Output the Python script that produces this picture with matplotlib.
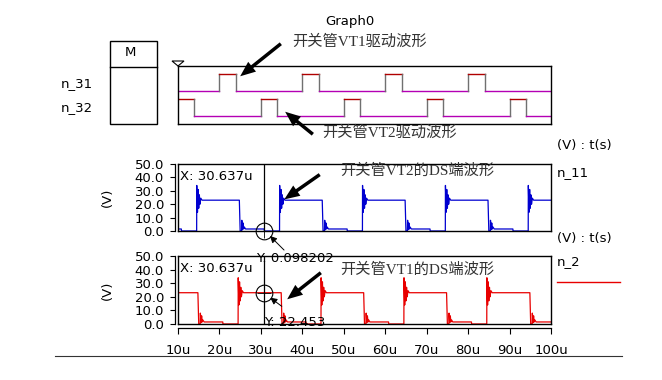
import matplotlib
matplotlib.use("Agg")
import matplotlib.pyplot as plt
from matplotlib.patches import FancyArrowPatch, Rectangle, Polygon
from matplotlib.lines import Line2D

plt.rcParams['font.family'] = ['DejaVu Sans']

W, H = 662, 380

# --- data (time in us, voltage in V) ---
t_ticks = [10, 20, 30, 40, 50, 60, 70, 80, 90, 100]
t_tick_labels = ['10u', '20u', '30u', '40u', '50u', '60u', '70u', '80u', '90u', '100u']
v_ticks = [0, 10, 20, 30, 40, 50]

# gate drive pulses (start, end)
n31_high = [(20.0, 24.0), (40.0, 44.0), (60.0, 64.0), (80.0, 84.0)]
n32_high = [(10.0, 13.9), (30.0, 34.0), (50.0, 54.0), (70.0, 74.0), (90.0, 94.0)]

# drain-source edges
n11_rise = [14.5, 34.5, 54.5, 74.5, 94.5]
n11_fall = [4.8, 24.8, 44.8, 64.8, 84.8]
n2_rise = [4.5, 24.5, 44.5, 64.5, 84.5]
n2_fall = [14.8, 34.9, 54.8, 74.8, 94.9]

# ringing seen at each edge
rise_dt = [0, 0.03, 0.2, 0.35, 0.5, 0.65, 0.8, 1.0, 1.3, 1.6]
rise_v = [0, 34, 14, 31, 17, 27, 20, 24.5, 23, 23]
fall_dt = [0, 0.2, 0.55, 0.6, 0.75, 0.9, 1.05, 1.2, 1.5]
fall_v = [23, 0, 0, 8, 1, 6, 1.5, 3, 1.5]
low_hold = 6.0
low_level = 1.5

cursor_x = 30.637
cursor_y1 = 0.098202
cursor_y2 = 22.453


def P(x, y):
    return (x / W, 1 - y / H)


def box(x0, y0, x1, y1):
    return [x0 / W, 1 - y1 / H, (x1 - x0) / W, (y1 - y0) / H]


def analog_wave(rises, falls, start_v):
    edges = sorted([(t, 'r') for t in rises] + [(t, 'f') for t in falls])
    ts, vs = [0.0], [start_v]
    for t, kind in edges:
        if kind == 'r':
            ts += [t + d for d in rise_dt]
            vs += rise_v
        else:
            ts += [t + d for d in fall_dt]
            vs += fall_v
            ts += [t + low_hold, t + low_hold + 0.05]
            vs += [low_level, 0]
    ts.append(110.0)
    vs.append(vs[-1])
    return ts, vs


LOW_C = '#b400b4'
HIGH_C = '#b00000'
EDGE_C = '#707070'


def draw_lane(ax, highs, base, amp):
    t = 10.0
    for a, b in highs:
        if a > t:
            ax.plot([t, a], [base, base], color=LOW_C, lw=1)
            ax.plot([a, a], [base, base + amp], color=EDGE_C, lw=1)
        ax.plot([max(a, 10.0), b], [base + amp, base + amp], color=HIGH_C, lw=1)
        ax.plot([b, b], [base, base + amp], color=EDGE_C, lw=1)
        t = b
    ax.plot([t, 100], [base, base], color=LOW_C, lw=1)


fig = plt.figure(figsize=(W / 100, H / 100), dpi=100)
fig.patch.set_facecolor('white')

FS = 9.5

# --- digital panel ---
ax0 = fig.add_axes(box(178, 66, 551, 124))
ax0.set_xlim(10, 100)
ax0.set_ylim(0, 58)
draw_lane(ax0, n31_high, 33, 17)
draw_lane(ax0, n32_high, 8, 17)
ax0.set_xticks([])
ax0.set_yticks([])
for s in ax0.spines.values():
    s.set_linewidth(1)

# M box and marker
fig.add_artist(Rectangle(P(110, 124), 47 / W, 83 / H, transform=fig.transFigure,
                         fill=False, lw=1, ec='black'))
fig.add_artist(Line2D([110 / W, 157 / W], [1 - 67 / H] * 2, transform=fig.transFigure,
                      color='black', lw=1))
fig.text(*P(130, 53), 'M', ha='center', va='center', fontsize=FS)
fig.add_artist(Polygon([P(172, 61), P(184, 61), P(178, 66)], closed=True, fill=False,
                       lw=0.8, ec='black', transform=fig.transFigure))
fig.text(*P(61, 84), 'n_31', ha='left', va='center', fontsize=FS)
fig.text(*P(61, 108), 'n_32', ha='left', va='center', fontsize=FS)

# --- analog panels ---
ts11, vs11 = analog_wave(n11_rise, n11_fall, 23)
ts2, vs2 = analog_wave(n2_rise, n2_fall, 0)

ax1 = fig.add_axes(box(178, 164, 551, 231))
ax2 = fig.add_axes(box(178, 256, 551, 324))
ax1.plot(ts11, vs11, color='#0000d0', lw=0.9)
ax2.plot(ts2, vs2, color='#e80000', lw=0.9)

for ax in (ax1, ax2):
    ax.set_xlim(10, 100)
    ax.set_ylim(0, 50)
    ax.set_xticks([])
    ax.set_yticks([])
    for s in ax.spines.values():
        s.set_linewidth(1)
    ax.axvline(cursor_x, color='black', lw=0.9)
    sy = ax.secondary_yaxis(-3.5 / 373)
    sy.set_yticks(v_ticks)
    sy.set_yticklabels(['%.1f' % v for v in v_ticks])
    sy.tick_params(direction='out', length=3.5, width=0.8, pad=4, labelsize=FS)
    sy.spines['left'].set_linewidth(0.9)

sx = ax2.secondary_xaxis(-4.3 / 68)
sx.set_xticks(t_ticks)
sx.set_xticklabels(t_tick_labels)
sx.tick_params(direction='out', length=4, width=0.8, pad=7, labelsize=FS)
sx.spines['bottom'].set_linewidth(0.9)

# cursor markers
for ax, cy in ((ax1, cursor_y1), (ax2, cursor_y2)):
    ax.plot([cursor_x], [cy], marker='o', ms=12, mfc='none', mec='black', mew=0.8, clip_on=False)
    ax.plot([cursor_x], [cy], marker='+', ms=10, mec='black', mew=0.6, clip_on=False)

fig.add_artist(FancyArrowPatch(P(286, 252), P(268, 234), transform=fig.transFigure,
                               arrowstyle='-|>,head_length=4,head_width=2', lw=0.7, color='black'))
fig.add_artist(FancyArrowPatch(P(284, 308), P(268, 296), transform=fig.transFigure,
                               arrowstyle='-|>,head_length=4,head_width=2', lw=0.7, color='black'))

fig.text(*P(180, 177), 'X: 30.637u', ha='left', va='center', fontsize=FS)
fig.text(*P(180, 268), 'X: 30.637u', ha='left', va='center', fontsize=FS)
fig.text(*P(256, 259), 'Y: 0.098202', ha='left', va='center', fontsize=FS)
fig.text(*P(264, 322), 'Y: 22.453', ha='left', va='center', fontsize=FS)

fig.text(*P(107, 197), '(V)', rotation=90, ha='center', va='center', fontsize=FS)
fig.text(*P(107, 290), '(V)', rotation=90, ha='center', va='center', fontsize=FS)
fig.text(*P(557, 146), '(V) : t(s)', ha='left', va='center', fontsize=FS)
fig.text(*P(557, 239), '(V) : t(s)', ha='left', va='center', fontsize=FS)
fig.text(*P(557, 173), 'n_11', ha='left', va='center', fontsize=FS)
fig.text(*P(557, 262), 'n_2', ha='left', va='center', fontsize=FS)
fig.add_artist(Line2D([557 / W, 620 / W], [1 - 282 / H] * 2, transform=fig.transFigure,
                      color='#e80000', lw=1))

# titles and notes
cjk = ['Liberation Serif', 'Noto Sans CJK SC']
fig.text(*P(350, 22), 'Graph0', ha='center', va='center', fontsize=FS)
fig.text(*P(292, 42), '开关管VT1驱动波形', ha='left', va='center', fontsize=11,
         family=cjk, color='#333333')
fig.text(*P(322, 133), '开关管VT2驱动波形', ha='left', va='center', fontsize=11,
         family=cjk, color='#333333')
fig.text(*P(340, 171), '开关管VT2的DS端波形', ha='left', va='center', fontsize=11,
         family=cjk, color='#333333')
fig.text(*P(340, 270), '开关管VT1的DS端波形', ha='left', va='center', fontsize=11,
         family=cjk, color='#333333')

# big pointer arrows
big = 'simple,head_length=1.1,head_width=0.9,tail_width=0.25'
for tail, head in (((283, 42), (238, 78)), ((315, 136), (283, 110)),
                   ((322, 173), (282, 201)), ((323, 271), (285, 301))):
    fig.add_artist(FancyArrowPatch(P(*tail), P(*head), transform=fig.transFigure,
                                   arrowstyle=big, mutation_scale=10, color='black', lw=0))

# bottom rule
fig.add_artist(Line2D([55 / W, 622 / W], [1 - 356 / H] * 2, transform=fig.transFigure,
                      color='#333333', lw=0.8))

fig.savefig('out.png', dpi=100)
